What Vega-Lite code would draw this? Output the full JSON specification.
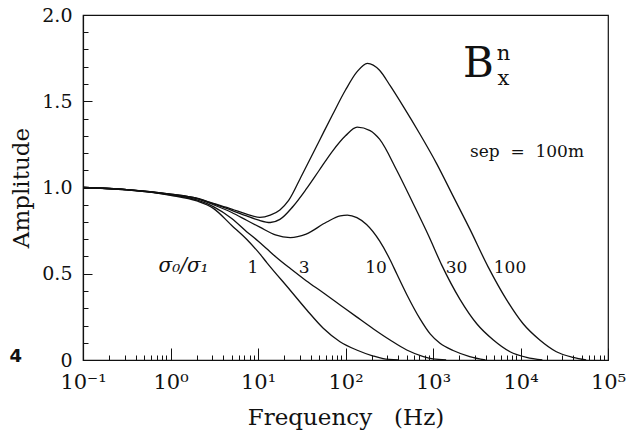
{
  "$schema": "https://vega.github.io/schema/vega-lite/v6.json",
  "width": 525,
  "height": 345,
  "autosize": "none",
  "padding": {"left": 83, "top": 15, "right": 18, "bottom": 72},
  "background": "white",
  "config": {
    "view": {"stroke": "#111", "strokeWidth": 1.2},
    "axis": {"domainColor": "#111", "domainWidth": 1.2, "tickColor": "#111", "tickWidth": 1, "labelColor": "#111", "titleColor": "#111", "labelFont": "DejaVu Serif", "titleFont": "DejaVu Serif", "titleFontWeight": "normal", "grid": false, "labelOverlap": false},
    "text": {"font": "DejaVu Serif", "color": "#111"}
  },
  "datasets": {
    "curves": [
      {"ratio": "1", "f": 0.1, "amp": 1.0}, {"ratio": "1", "f": 0.316, "amp": 0.986}, {"ratio": "1", "f": 1, "amp": 0.955}, {"ratio": "1", "f": 2, "amp": 0.922}, {"ratio": "1", "f": 3.09, "amp": 0.879}, {"ratio": "1", "f": 5.01, "amp": 0.78}, {"ratio": "1", "f": 7.41, "amp": 0.70}, {"ratio": "1", "f": 10.5, "amp": 0.615}, {"ratio": "1", "f": 12.6, "amp": 0.565}, {"ratio": "1", "f": 23.2, "amp": 0.406}, {"ratio": "1", "f": 36.1, "amp": 0.29}, {"ratio": "1", "f": 55.7, "amp": 0.184}, {"ratio": "1", "f": 86.5, "amp": 0.106}, {"ratio": "1", "f": 134, "amp": 0.058}, {"ratio": "1", "f": 208, "amp": 0.023}, {"ratio": "1", "f": 269, "amp": 0.008}, {"ratio": "1", "f": 398, "amp": 0},
      {"ratio": "3", "f": 0.1, "amp": 1.0}, {"ratio": "3", "f": 0.316, "amp": 0.987}, {"ratio": "3", "f": 1, "amp": 0.958}, {"ratio": "3", "f": 2, "amp": 0.928}, {"ratio": "3", "f": 3.09, "amp": 0.889}, {"ratio": "3", "f": 5.01, "amp": 0.82}, {"ratio": "3", "f": 7.41, "amp": 0.744}, {"ratio": "3", "f": 10, "amp": 0.69}, {"ratio": "3", "f": 12.6, "amp": 0.645}, {"ratio": "3", "f": 15.8, "amp": 0.60}, {"ratio": "3", "f": 23.4, "amp": 0.53}, {"ratio": "3", "f": 35.5, "amp": 0.46}, {"ratio": "3", "f": 55.7, "amp": 0.39}, {"ratio": "3", "f": 89.1, "amp": 0.315}, {"ratio": "3", "f": 134, "amp": 0.25}, {"ratio": "3", "f": 209, "amp": 0.18}, {"ratio": "3", "f": 323, "amp": 0.116}, {"ratio": "3", "f": 501, "amp": 0.058}, {"ratio": "3", "f": 776, "amp": 0.02}, {"ratio": "3", "f": 1000, "amp": 0.006}, {"ratio": "3", "f": 1413, "amp": 0},
      {"ratio": "10", "f": 0.1, "amp": 1.0}, {"ratio": "10", "f": 0.316, "amp": 0.988}, {"ratio": "10", "f": 1, "amp": 0.96}, {"ratio": "10", "f": 2, "amp": 0.935}, {"ratio": "10", "f": 3.09, "amp": 0.90}, {"ratio": "10", "f": 5.01, "amp": 0.855}, {"ratio": "10", "f": 7.41, "amp": 0.81}, {"ratio": "10", "f": 10.5, "amp": 0.77}, {"ratio": "10", "f": 15.8, "amp": 0.725}, {"ratio": "10", "f": 23.4, "amp": 0.71}, {"ratio": "10", "f": 35.5, "amp": 0.73}, {"ratio": "10", "f": 61, "amp": 0.80}, {"ratio": "10", "f": 87.1, "amp": 0.835}, {"ratio": "10", "f": 105, "amp": 0.84}, {"ratio": "10", "f": 135, "amp": 0.825}, {"ratio": "10", "f": 174, "amp": 0.785}, {"ratio": "10", "f": 245, "amp": 0.69}, {"ratio": "10", "f": 324, "amp": 0.58}, {"ratio": "10", "f": 385, "amp": 0.50}, {"ratio": "10", "f": 501, "amp": 0.38}, {"ratio": "10", "f": 708, "amp": 0.24}, {"ratio": "10", "f": 933, "amp": 0.15}, {"ratio": "10", "f": 1202, "amp": 0.097}, {"ratio": "10", "f": 1698, "amp": 0.055}, {"ratio": "10", "f": 2630, "amp": 0.02}, {"ratio": "10", "f": 3981, "amp": 0},
      {"ratio": "30", "f": 0.1, "amp": 1.0}, {"ratio": "30", "f": 0.316, "amp": 0.988}, {"ratio": "30", "f": 1, "amp": 0.962}, {"ratio": "30", "f": 2, "amp": 0.937}, {"ratio": "30", "f": 3.09, "amp": 0.905}, {"ratio": "30", "f": 5.01, "amp": 0.868}, {"ratio": "30", "f": 7.41, "amp": 0.835}, {"ratio": "30", "f": 10, "amp": 0.812}, {"ratio": "30", "f": 13.8, "amp": 0.797}, {"ratio": "30", "f": 17.8, "amp": 0.815}, {"ratio": "30", "f": 25.1, "amp": 0.89}, {"ratio": "30", "f": 35.5, "amp": 0.99}, {"ratio": "30", "f": 50.1, "amp": 1.10}, {"ratio": "30", "f": 70.8, "amp": 1.21}, {"ratio": "30", "f": 100, "amp": 1.30}, {"ratio": "30", "f": 136, "amp": 1.35}, {"ratio": "30", "f": 191, "amp": 1.33}, {"ratio": "30", "f": 245, "amp": 1.28}, {"ratio": "30", "f": 385, "amp": 1.10}, {"ratio": "30", "f": 589, "amp": 0.91}, {"ratio": "30", "f": 891, "amp": 0.72}, {"ratio": "30", "f": 1259, "amp": 0.55}, {"ratio": "30", "f": 2042, "amp": 0.35}, {"ratio": "30", "f": 3162, "amp": 0.21}, {"ratio": "30", "f": 4898, "amp": 0.116}, {"ratio": "30", "f": 7586, "amp": 0.048}, {"ratio": "30", "f": 11749, "amp": 0.015}, {"ratio": "30", "f": 17783, "amp": 0},
      {"ratio": "100", "f": 0.1, "amp": 1.0}, {"ratio": "100", "f": 0.316, "amp": 0.988}, {"ratio": "100", "f": 1, "amp": 0.962}, {"ratio": "100", "f": 2, "amp": 0.938}, {"ratio": "100", "f": 3.09, "amp": 0.908}, {"ratio": "100", "f": 5.01, "amp": 0.875}, {"ratio": "100", "f": 7.41, "amp": 0.845}, {"ratio": "100", "f": 10.5, "amp": 0.827}, {"ratio": "100", "f": 13.8, "amp": 0.84}, {"ratio": "100", "f": 17.8, "amp": 0.87}, {"ratio": "100", "f": 22.4, "amp": 0.925}, {"ratio": "100", "f": 31.6, "amp": 1.07}, {"ratio": "100", "f": 50.1, "amp": 1.27}, {"ratio": "100", "f": 70.8, "amp": 1.42}, {"ratio": "100", "f": 100, "amp": 1.565}, {"ratio": "100", "f": 135, "amp": 1.67}, {"ratio": "100", "f": 178, "amp": 1.72}, {"ratio": "100", "f": 245, "amp": 1.68}, {"ratio": "100", "f": 324, "amp": 1.59}, {"ratio": "100", "f": 457, "amp": 1.47}, {"ratio": "100", "f": 708, "amp": 1.31}, {"ratio": "100", "f": 1096, "amp": 1.14}, {"ratio": "100", "f": 1698, "amp": 0.95}, {"ratio": "100", "f": 2630, "amp": 0.76}, {"ratio": "100", "f": 4266, "amp": 0.54}, {"ratio": "100", "f": 6918, "amp": 0.35}, {"ratio": "100", "f": 10715, "amp": 0.21}, {"ratio": "100", "f": 16596, "amp": 0.116}, {"ratio": "100", "f": 25704, "amp": 0.048}, {"ratio": "100", "f": 39811, "amp": 0.015}, {"ratio": "100", "f": 56234, "amp": 0}
    ],
    "curve_labels": [
      {"label": "1", "f": 8.77, "amp": 0.503},
      {"label": "3", "f": 33.6, "amp": 0.503},
      {"label": "10", "f": 223, "amp": 0.503},
      {"label": "30", "f": 1857, "amp": 0.503},
      {"label": "100", "f": 7586, "amp": 0.503}
    ]
  },
  "layer": [
    {
      "data": {"name": "curves"},
      "mark": {"type": "line", "interpolate": "monotone", "color": "#111", "strokeWidth": 1.3},
      "encoding": {
        "x": {
          "field": "f", "type": "quantitative",
          "scale": {"type": "log", "domain": [0.1, 100000], "nice": false},
          "axis": {
            "orient": "bottom",
            "values": [0.1,0.2,0.3,0.4,0.5,0.6,0.7,0.8,0.9,1,2,3,4,5,6,7,8,9,10,20,30,40,50,60,70,80,90,100,200,300,400,500,600,700,800,900,1000,2000,3000,4000,5000,6000,7000,8000,9000,10000,20000,30000,40000,50000,60000,70000,80000,90000,100000],
            "tickCount": 100,
            "tickSize": {"condition": {"test": "abs(log(datum.value)/LN10 - round(log(datum.value)/LN10)) < 0.001", "value": -12}, "value": -5},
            "labelFontSize": {"condition": {"test": "abs(log(datum.value)/LN10 - round(log(datum.value)/LN10)) < 0.001", "value": 21}, "value": 0},
            "labelExpr": "abs(log(datum.value)/LN10 - round(log(datum.value)/LN10)) > 0.001 ? '' : datum.value < 0.5 ? '10⁻¹' : datum.value < 5 ? '10⁰' : datum.value < 50 ? '10¹' : datum.value < 500 ? '10²' : datum.value < 5000 ? '10³' : datum.value < 50000 ? '10⁴' : '10⁵'",
            "labelPadding": 23, "labelFlush": false, "labelOverlap": false,
            "title": "Frequency\u00a0\u00a0\u00a0(Hz)", "titleFontSize": 23, "titleX": 262.5, "titleY": 64, "titleBaseline": "alphabetic", "titleAlign": "center"
          }
        },
        "y": {
          "field": "amp", "type": "quantitative",
          "scale": {"domain": [0, 2], "nice": false},
          "axis": {
            "orient": "left",
            "values": [0,0.1,0.2,0.3,0.4,0.5,0.6,0.7,0.8,0.9,1,1.1,1.2,1.3,1.4,1.5,1.6,1.7,1.8,1.9,2],
            "tickCount": 100,
            "tickSize": {"condition": {"test": "abs(datum.value*2 - round(datum.value*2)) < 0.001", "value": -9}, "value": -5},
            "labelFontSize": {"condition": {"test": "abs(datum.value*2 - round(datum.value*2)) < 0.001", "value": 19}, "value": 0},
            "labelExpr": "abs(datum.value*2 - round(datum.value*2)) > 0.001 ? '' : datum.value == 0 ? '0' : format(datum.value, '.1f')",
            "labelPadding": 20, "labelFlush": false, "labelOverlap": false,
            "title": "Amplitude", "titleFontSize": 23, "titleX": -62, "titleY": 172.5, "titleAngle": 270, "titleBaseline": "middle", "titleAlign": "center"
          }
        },
        "detail": {"field": "ratio", "type": "nominal"}
      }
    },
    {
      "data": {"name": "curve_labels"},
      "mark": {"type": "text", "fontSize": 17, "align": "center", "baseline": "alphabetic"},
      "encoding": {
        "x": {"field": "f", "type": "quantitative"},
        "y": {"field": "amp", "type": "quantitative"},
        "text": {"field": "label", "type": "nominal"}
      }
    },
    {
      "data": {"values": [{"label": "σ₀/σ₁", "f": 1.41, "amp": 0.51}]},
      "mark": {"type": "text", "fontSize": 20, "fontStyle": "italic", "align": "center", "baseline": "alphabetic"},
      "encoding": {
        "x": {"field": "f", "type": "quantitative"},
        "y": {"field": "amp", "type": "quantitative"},
        "text": {"field": "label", "type": "nominal"}
      }
    },
    {
      "data": {"values": [{"label": "sep\u00a0\u00a0=\u00a0\u00a0100m", "f": 11860, "amp": 1.177}]},
      "mark": {"type": "text", "fontSize": 17, "align": "center", "baseline": "alphabetic"},
      "encoding": {
        "x": {"field": "f", "type": "quantitative"},
        "y": {"field": "amp", "type": "quantitative"},
        "text": {"field": "label", "type": "nominal"}
      }
    },
    {
      "data": {"values": [{"label": "B", "f": 3311, "amp": 1.641}]},
      "mark": {"type": "text", "fontSize": 42, "align": "center", "baseline": "alphabetic"},
      "encoding": {
        "x": {"field": "f", "type": "quantitative"},
        "y": {"field": "amp", "type": "quantitative"},
        "text": {"field": "label", "type": "nominal"}
      }
    },
    {
      "data": {"values": [{"label": "n", "f": 6397, "amp": 1.739}, {"label": "x", "f": 6397, "amp": 1.594}]},
      "mark": {"type": "text", "fontSize": 21, "align": "center", "baseline": "alphabetic"},
      "encoding": {
        "x": {"field": "f", "type": "quantitative"},
        "y": {"field": "amp", "type": "quantitative"},
        "text": {"field": "label", "type": "nominal"}
      }
    },
    {
      "data": {"values": [{"label": "4", "f": 0.0171, "amp": -0.012}]},
      "mark": {"type": "text", "fontSize": 18, "font": "DejaVu Sans", "fontWeight": "bold", "align": "center", "baseline": "alphabetic"},
      "encoding": {
        "x": {"field": "f", "type": "quantitative", "scale": {"type": "log", "domain": [0.1, 100000], "nice": false}},
        "y": {"field": "amp", "type": "quantitative", "scale": {"domain": [0, 2], "nice": false}},
        "text": {"field": "label", "type": "nominal"}
      }
    }
  ]
}
